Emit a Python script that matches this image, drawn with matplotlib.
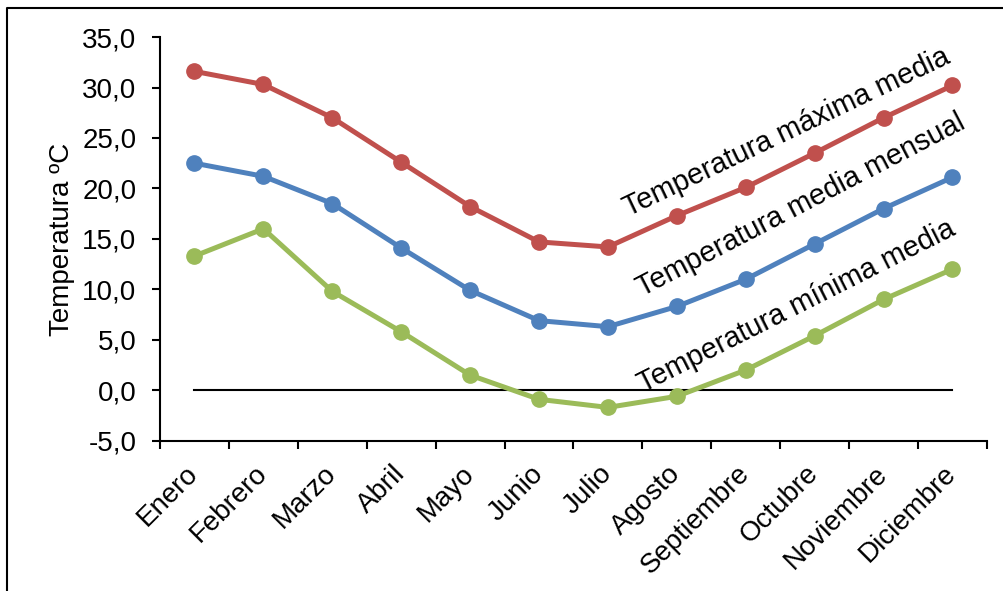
import matplotlib

matplotlib.use("Agg")
import matplotlib.pyplot as plt
from matplotlib.lines import Line2D

plt.rcParams["font.family"] = ["Liberation Sans", "DejaVu Sans"]

meses = ["Enero", "Febrero", "Marzo", "Abril", "Mayo", "Junio", "Julio",
         "Agosto", "Septiembre", "Octubre", "Noviembre", "Diciembre"]
t_max = [31.6, 30.3, 27.0, 22.6, 18.2, 14.7, 14.2, 17.3, 20.1, 23.5, 27.0, 30.2]
t_media = [22.5, 21.2, 18.5, 14.1, 9.9, 6.9, 6.3, 8.3, 11.0, 14.5, 18.0, 21.1]
t_min = [13.3, 16.0, 9.8, 5.8, 1.5, -0.9, -1.7, -0.6, 2.0, 5.4, 9.0, 12.0]
cero = [0.0] * len(meses)

fig = plt.figure(figsize=(10.04, 5.91), dpi=100)
ax = fig.add_axes([0.1594, 0.2543, 0.8236, 0.683])

x = list(range(len(meses)))
ax.plot(x, cero, color="black", lw=1.5)
for vals, col in [(t_max, "#C0504D"), (t_media, "#4F81BD"), (t_min, "#9BBB59")]:
    ax.plot(x, vals, color=col, lw=3.6, marker="o", ms=11, solid_joinstyle="round")

ax.set_xlim(-0.5, len(meses) - 0.5)
ax.set_ylim(-5, 35)
ax.set_yticks(range(-5, 36, 5))
ax.set_yticklabels([f"{v:.1f}".replace(".", ",") for v in range(-5, 36, 5)], fontsize=20)
ax.set_xticks([i - 0.5 for i in range(len(meses) + 1)])
ax.set_xticklabels([])
ax.set_xticks(x, minor=True)
ax.set_xticklabels(meses, minor=True, rotation=45, ha="right", va="center",
                   rotation_mode="anchor", fontsize=20)
ax.tick_params(axis="x", which="minor", length=0, pad=21)
ax.tick_params(axis="both", which="major", length=6, width=1.5, direction="out")
ax.tick_params(axis="y", pad=11)
for s in ["top", "right"]:
    ax.spines[s].set_visible(False)
for s in ["left", "bottom"]:
    ax.spines[s].set_linewidth(1.5)
ax.set_ylabel("Temperatura ºC", fontsize=20, labelpad=5)

ax.text(6.3, 17.2, "Temperatura máxima media", rotation=25.5, fontsize=20.8,
        rotation_mode="anchor", ha="left", va="baseline")
ax.text(6.5, 9.3, "Temperatura media mensual", rotation=27.5, fontsize=20.8,
        rotation_mode="anchor", ha="left", va="baseline")
ax.text(6.52, -0.25, "Temperatura mínima media", rotation=26.8, fontsize=20.8,
        rotation_mode="anchor", ha="left", va="baseline")

# chart frame (partly cut off at right and bottom)
fig.add_artist(Line2D([0.007, 0.007, 1.0], [0.0, 0.9865, 0.9865],
                      transform=fig.transFigure, color="black", lw=1.5))

fig.savefig("out.png", dpi=100)
